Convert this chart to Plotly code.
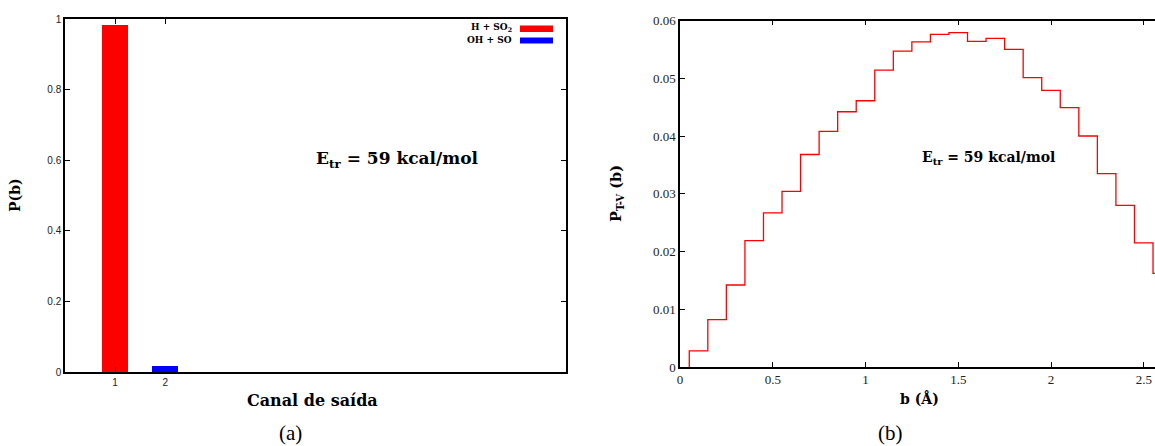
import plotly.graph_objects as go

# ---- data ----
canal = [1, 2]
prob_canal = [0.983, 0.018]
canal_names = ["H + SO<sub>2</sub>", "OH + SO"]
canal_colors = ["#ff0000", "#0000ff"]

b_left = [0.05, 0.15, 0.25, 0.35, 0.45, 0.55, 0.65, 0.75, 0.85, 0.95,
          1.05, 1.15, 1.25, 1.35, 1.45, 1.55, 1.65, 1.75, 1.85, 1.95,
          2.05, 2.15, 2.25, 2.35, 2.45, 2.55]
p_tv = [0.0028, 0.0082, 0.0142, 0.0219, 0.0267, 0.0304, 0.0368, 0.0408, 0.0442, 0.0461,
        0.0514, 0.0547, 0.0563, 0.0576, 0.0579, 0.0564, 0.0569, 0.0550, 0.0501, 0.0479,
        0.0449, 0.0400, 0.0335, 0.0280, 0.0215, 0.0162]

left_yticks = [0, 0.2, 0.4, 0.6, 0.8, 1]
left_ytext = ["0", "0.2", "0.4", "0.6", "0.8", "1"]
right_xticks = [0, 0.5, 1, 1.5, 2, 2.5]
right_xtext = ["0", "0.5", "1", "1.5", "2", "2.5"]
right_yticks = [0, 0.01, 0.02, 0.03, 0.04, 0.05, 0.06]
right_ytext = ["0", "0.01", "0.02", "0.03", "0.04", "0.05", "0.06"]

W, H = 1155, 446
def px(x):
    return x / W
def py(y):
    return 1 - y / H

SERIF = "DejaVu Serif"
TSERIF = "Liberation Serif"
fig = go.Figure()

for c, p, col in zip(canal, prob_canal, canal_colors):
    fig.add_trace(go.Bar(x=[c], y=[p], width=0.52, marker=dict(color=col, line=dict(width=0)),
                         xaxis="x", yaxis="y", showlegend=False))

step_x = [b_left[0]] + b_left + [b_left[-1] + 0.1]
step_y = [0] + p_tv + [p_tv[-1]]
fig.add_trace(go.Scatter(x=step_x, y=step_y, mode="lines", line=dict(color="#ff0000", width=1.3, shape="hv"),
                         xaxis="x2", yaxis="y2", showlegend=False))

axis_common = dict(showline=True, linecolor="black", linewidth=1.5, ticks="inside", ticklen=5,
                   tickcolor="black", tickwidth=1, showgrid=False, zeroline=False, automargin=False)

fig.update_layout(
    width=W, height=H, autosize=False, margin=dict(l=0, r=0, t=0, b=0, pad=0),
    paper_bgcolor="white", plot_bgcolor="white", showlegend=False, bargap=0,
    xaxis=dict(domain=[px(65), px(566)], range=[0, 10], tickvals=canal, ticktext=["1", "2"],
               mirror="allticks", anchor="y",
               tickfont=dict(family="Liberation Sans", size=10, color="#222"), **axis_common),
    yaxis=dict(domain=[py(372), py(19)], range=[0, 1], tickvals=left_yticks, ticktext=left_ytext,
               mirror="allticks", anchor="x",
               tickfont=dict(family="Liberation Sans", size=10, color="#222"), **axis_common),
    xaxis2=dict(domain=[px(680), 1.0], range=[0, (W - 680) / 185.5], tickvals=right_xticks, ticktext=right_xtext,
                mirror="allticks", anchor="y2",
                tickfont=dict(family=TSERIF, size=13, color="#222"), **axis_common),
    yaxis2=dict(domain=[py(367), py(20.5)], range=[0, 0.06], tickvals=right_yticks, ticktext=right_ytext,
                mirror=False, anchor="x2",
                tickfont=dict(family=TSERIF, size=13, color="#222"), **axis_common),
)

ann = []
def A(text, x, y, size, bold=True, angle=0, xanchor="center", family=SERIF, color="black"):
    t = f"<b>{text}</b>" if bold else text
    ann.append(dict(text=t, x=px(x), y=py(y), xref="paper", yref="paper", showarrow=False,
                    xanchor=xanchor, yanchor="middle", textangle=angle,
                    font=dict(family=family, size=size, color=color)))

A("P(b)", 15, 195, 14, angle=-90)
A("Canal de saída", 312, 400, 16)
A("(a)", 290, 433, 21, bold=False, family=TSERIF)
A("E<sub>tr</sub> = 59 kcal/mol", 397, 160, 17)
A("P<sub>T-V</sub> (b)", 617, 194, 14.5, angle=-90)
A("b (Å)", 919, 398, 14)
A("(b)", 890, 433, 21, bold=False, family=TSERIF)
A("E<sub>tr</sub> = 59 kcal/mol", 988, 158, 14)
A(canal_names[0], 514, 28, 9, xanchor="right")
A(canal_names[1], 514, 40, 9, xanchor="right")

shapes = [
    dict(type="rect", xref="paper", yref="paper", x0=px(520), x1=px(553), y0=py(32), y1=py(25.5),
         fillcolor=canal_colors[0], line=dict(width=0)),
    dict(type="rect", xref="paper", yref="paper", x0=px(520), x1=px(553), y0=py(43.5), y1=py(37.5),
         fillcolor=canal_colors[1], line=dict(width=0)),
]
fig.update_layout(annotations=ann, shapes=shapes)

fig.write_html("out.html")
